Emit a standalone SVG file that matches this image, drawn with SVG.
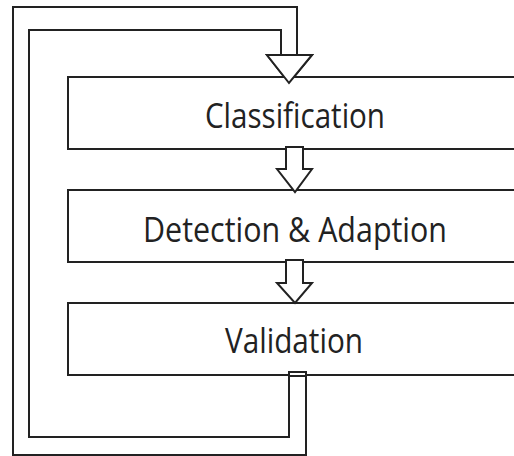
<svg xmlns="http://www.w3.org/2000/svg" width="514" height="456" viewBox="0 0 514 456">
<style>
.box{fill:#fff;stroke:#222;stroke-width:2}
.arr{fill:#fff;stroke:#222;stroke-width:2;stroke-linejoin:miter}
.lbl{font-family:"Open Sans","Noto Sans",sans-serif;font-size:35px;fill:#222;text-anchor:middle}
</style>
<rect width="514" height="456" fill="#fff"/>
<g id="connectors">
<path class="arr" d="M306,372 L306,455 L13,455 L13,7 L297,7 L297,55 L312,55 L289,83 L267,55 L281,55 L281,30 L29,30 L29,437 L289,437 L289,372 Z"/>
</g>
<g id="classification">
<rect class="box" x="68" y="77" width="460" height="72"/>
<text class="lbl" x="295" y="128" textLength="180" lengthAdjust="spacingAndGlyphs">Classification</text>
</g>
<g id="detection">
<rect class="box" x="68" y="190" width="460" height="72"/>
<text class="lbl" x="295" y="242" textLength="304" lengthAdjust="spacingAndGlyphs">Detection &amp; Adaption</text>
</g>
<g id="validation">
<rect class="box" x="68" y="303" width="460" height="72"/>
<text class="lbl" x="294" y="353" textLength="138" lengthAdjust="spacingAndGlyphs">Validation</text>
</g>
<g id="arrows">
<path class="arr" d="M286,147 L303,147 L303,169 L312,169 L295,192 L277,169 L286,169 Z"/>
<path class="arr" d="M286,260 L303,260 L303,283 L312,283 L295,303 L277,283 L286,283 Z"/>
<path class="arr" d="M289,372 L306,372 L306,376 L289,376 Z"/>
<path class="arr" d="M267,55 L312,55 L289,83 Z"/>
</g>
</svg>
